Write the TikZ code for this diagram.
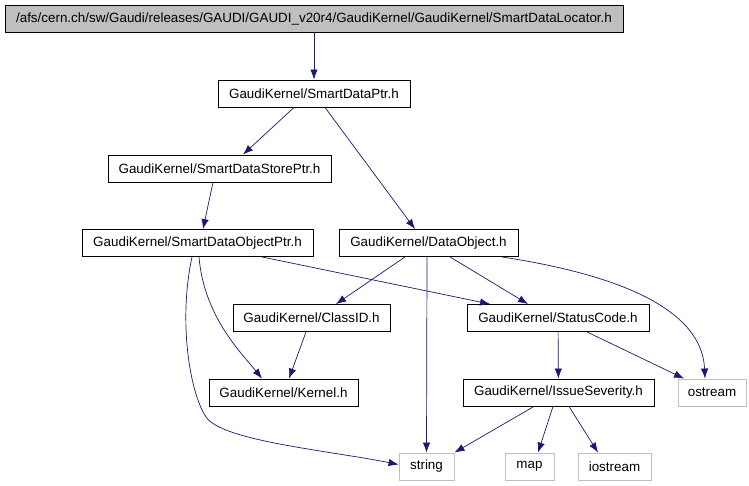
\documentclass[tikz,border=0pt]{standalone}
\usepackage{fontspec}
\setmainfont{Liberation Sans}
\usepackage{xcolor}
\usepackage{tikz}
\usetikzlibrary{arrows.meta}
\definecolor{dxblue}{HTML}{191970}
\definecolor{dxgrey}{HTML}{BFBFBF}
\tikzset{
  incbox/.style={draw=black, line width=0.9pt, rectangle, inner sep=0pt, minimum height=27pt, font=\fontsize{13.4}{15}\selectfont},
  sysbox/.style={incbox, draw=dxgrey},
  incedge/.style={draw=dxblue, line width=0.7pt, -{Latex[length=10pt,width=7.5pt]}}
}
\begin{document}
\begin{tikzpicture}[x=1pt, y=-1pt]
\useasboundingbox (0,0) rectangle (749,485);
\node[incbox, fill=dxgrey, minimum width=618pt] (root) at (314,18.5) {/afs/cern.ch/sw/Gaudi/releases/GAUDI/GAUDI\_v20r4/GaudiKernel/GaudiKernel/SmartDataLocator.h};
\node[incbox, minimum width=192pt] (sptr) at (314,93.5) {GaudiKernel/SmartDataPtr.h};
\node[incbox, minimum width=223pt] (sstore) at (219.5,168.5) {GaudiKernel/SmartDataStorePtr.h};
\node[incbox, minimum width=231pt] (sobj) at (197.5,243) {GaudiKernel/SmartDataObjectPtr.h};
\node[incbox, minimum width=179pt] (dobj) at (428.5,243) {GaudiKernel/DataObject.h};
\node[incbox, minimum width=157pt] (classid) at (311.5,318) {GaudiKernel/ClassID.h};
\node[incbox, minimum width=182pt] (status) at (558,318) {GaudiKernel/StatusCode.h};
\node[incbox, minimum width=149pt] (kernel) at (283.5,392.5) {GaudiKernel/Kernel.h};
\node[incbox, minimum width=191pt] (issue) at (558.5,392.5) {GaudiKernel/IssueSeverity.h};
\node[sysbox, minimum width=68pt] (ostream) at (712,392.5) {ostream};
\node[sysbox, minimum width=55pt] (string) at (426.5,466.5) {string};
\node[sysbox, minimum width=49pt] (map) at (529.5,466.5) {map};
\node[sysbox, minimum width=73pt] (iostream) at (614.5,466.5) {iostream};
\draw[incedge] (root) -- (sptr);
\draw[incedge] ([xshift=-20pt]sptr.south) -- ([xshift=23.5pt]sstore.north);
\draw[incedge] ([xshift=11pt]sptr.south) -- ([xshift=-13.5pt]dobj.north);
\draw[incedge] ([xshift=-6.5pt]sstore.south) -- ([xshift=5.5pt]sobj.north);
\draw[incedge] ([xshift=64.5pt]sobj.south) -- ([xshift=-68pt]status.north);
\draw[incedge] ([xshift=1.5pt]sobj.south) .. controls +(5,60) and +(-20,-25) .. ([xshift=-21.5pt]kernel.north);
\draw[incedge] ([xshift=-5.5pt]sobj.south) .. controls +(-14,65) and +(-16,-24) .. ++(14,160)
  .. controls +(16,24) and +(-70,-14) .. ([yshift=2pt]string.west);
\draw[incedge] ([xshift=-23.5pt]dobj.south) -- ([xshift=24.5pt]classid.north);
\draw[incedge] ([xshift=-1.5pt]dobj.south) -- (string.north);
\draw[incedge] ([xshift=21.5pt]dobj.south) -- ([xshift=-30pt]status.north);
\draw[incedge] ([xshift=73.5pt]dobj.south) .. controls +(118,18) and +(-3,-69) .. ([xshift=-7pt]ostream.north);
\draw[incedge] ([xshift=-5.5pt]classid.south) -- ([xshift=5.5pt]kernel.north);
\draw[incedge] (status) -- (issue);
\draw[incedge] ([xshift=29pt]status.south) -- ([xshift=-28pt]ostream.north);
\draw[incedge] ([xshift=-24.5pt]issue.south) -- (string.north east);
\draw[incedge] ([xshift=-5.5pt]issue.south) -- ([xshift=8.5pt]map.north);
\draw[incedge] ([xshift=10.5pt]issue.south) -- ([xshift=-16.5pt]iostream.north);
\end{tikzpicture}
\end{document}
